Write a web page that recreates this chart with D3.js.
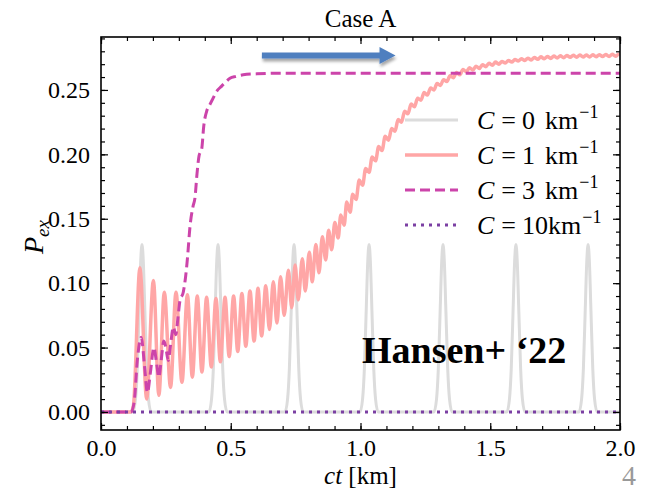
<!DOCTYPE html>
<html>
<head>
<meta charset="utf-8">
<script src="https://cdn.jsdelivr.net/npm/d3@7"></script>
<style>
  body { margin: 0; background: #fff; }
  svg text { font-family: "Liberation Serif", "Times New Roman", serif; fill: #000; }
</style>
</head>
<body>
<div id="graph"></div>
<script>
// tick labels
const xTicks = [0, 0.5, 1.0, 1.5, 2.0];
const yTicks = [0, 0.05, 0.10, 0.15, 0.20, 0.25];

// legend
const legendValues = ["0", "1", "3", "10"];

// C = 0 km^-1 : narrow peaks, [ct, P]
const c0Points = [
  [0, 0],
  [0.123, 0], [0.133, 0.010], [0.140, 0.034], [0.147, 0.079], [0.153, 0.117], [0.158, 0.130],
  [0.163, 0.117], [0.169, 0.079], [0.176, 0.034], [0.183, 0.010], [0.193, 0],
  [0.416, 0], [0.426, 0.010], [0.433, 0.034], [0.440, 0.079], [0.446, 0.117], [0.451, 0.130],
  [0.456, 0.117], [0.462, 0.079], [0.469, 0.034], [0.476, 0.010], [0.486, 0],
  [0.709, 0], [0.719, 0.010], [0.726, 0.034], [0.733, 0.079], [0.739, 0.117], [0.744, 0.130],
  [0.749, 0.117], [0.755, 0.079], [0.762, 0.034], [0.769, 0.010], [0.779, 0],
  [0.998, 0], [1.008, 0.010], [1.015, 0.034], [1.022, 0.079], [1.028, 0.117], [1.033, 0.130],
  [1.038, 0.117], [1.044, 0.079], [1.051, 0.034], [1.058, 0.010], [1.068, 0],
  [1.283, 0], [1.293, 0.010], [1.300, 0.034], [1.307, 0.079], [1.313, 0.117], [1.318, 0.130],
  [1.323, 0.117], [1.329, 0.079], [1.336, 0.034], [1.343, 0.010], [1.353, 0],
  [1.564, 0], [1.574, 0.010], [1.581, 0.034], [1.588, 0.079], [1.594, 0.117], [1.599, 0.130],
  [1.604, 0.117], [1.610, 0.079], [1.617, 0.034], [1.624, 0.010], [1.634, 0],
  [1.842, 0], [1.852, 0.010], [1.859, 0.034], [1.866, 0.079], [1.872, 0.117], [1.877, 0.130],
  [1.882, 0.117], [1.888, 0.079], [1.895, 0.034], [1.902, 0.010], [1.912, 0],
  [2.0, 0]
];

// C = 1 km^-1 : oscillating rise, peaks and troughs [ct, P]
const c1Points = [
  [0, 0], [0.115, 0], [0.125, 0.005],
  [0.150, 0.112], [0.176, 0.010], [0.202, 0.102], [0.223, 0.013],
  [0.244, 0.093], [0.268, 0.019], [0.289, 0.093], [0.312, 0.023],
  [0.333, 0.091], [0.352, 0.027], [0.371, 0.090], [0.389, 0.031],
  [0.407, 0.089], [0.425, 0.035], [0.443, 0.088], [0.460, 0.039],
  [0.478, 0.089], [0.494, 0.043], [0.511, 0.090], [0.527, 0.047],
  [0.543, 0.092], [0.558, 0.051], [0.574, 0.094], [0.590, 0.055],
  [0.605, 0.096], [0.619, 0.059], [0.635, 0.098], [0.649, 0.064],
  [0.664, 0.101], [0.678, 0.069], [0.692, 0.105], [0.706, 0.075],
  [0.722, 0.110], [0.735, 0.081], [0.748, 0.114], [0.760, 0.087],
  [0.776, 0.119], [0.787, 0.094], [0.803, 0.124], [0.814, 0.101],
  [0.828, 0.130], [0.840, 0.108], [0.853, 0.136], [0.866, 0.118],
  [0.877, 0.141], [0.889, 0.126], [0.901, 0.147], [0.914, 0.135],
  [0.924, 0.153], [0.937, 0.145], [0.947, 0.163], [0.960, 0.155],
  [0.970, 0.169], [0.983, 0.165], [0.995, 0.180], [1.008, 0.176],
  [1.020, 0.189], [1.033, 0.186], [1.045, 0.198], [1.058, 0.195],
  [1.070, 0.206], [1.083, 0.203], [1.095, 0.214], [1.108, 0.211],
  [1.120, 0.220], [1.133, 0.218], [1.145, 0.227], [1.158, 0.225],
  [1.170, 0.2335], [1.183, 0.2315], [1.195, 0.239], [1.208, 0.237],
  [1.220, 0.2435], [1.233, 0.242], [1.245, 0.248], [1.258, 0.246],
  [1.270, 0.2515], [1.283, 0.250], [1.295, 0.255], [1.308, 0.2535],
  [1.320, 0.258], [1.333, 0.2565], [1.345, 0.261], [1.358, 0.2595],
  [1.370, 0.2635], [1.383, 0.2618], [1.395, 0.2659], [1.408, 0.2640],
  [1.420, 0.2673], [1.433, 0.2654], [1.445, 0.2684], [1.458, 0.2667],
  [1.470, 0.2696], [1.483, 0.2681], [1.495, 0.2708], [1.508, 0.2692],
  [1.520, 0.2716], [1.533, 0.2700], [1.545, 0.2721], [1.558, 0.2709],
  [1.570, 0.2729], [1.583, 0.2717], [1.595, 0.2736], [1.608, 0.2724],
  [1.620, 0.2742], [1.633, 0.2729], [1.645, 0.2747], [1.658, 0.2733],
  [1.670, 0.2752], [1.683, 0.2738], [1.695, 0.2757], [1.708, 0.2742],
  [1.720, 0.2760], [1.733, 0.2745], [1.745, 0.2763], [1.758, 0.2748],
  [1.770, 0.2765], [1.783, 0.2750], [1.795, 0.2768], [1.808, 0.2753],
  [1.820, 0.2769], [1.833, 0.2754], [1.845, 0.2771], [1.858, 0.2755],
  [1.870, 0.2772], [1.883, 0.2756], [1.895, 0.2773], [1.908, 0.2758],
  [1.920, 0.2774], [1.933, 0.2759], [1.945, 0.2776], [1.958, 0.2760],
  [1.970, 0.2777], [1.983, 0.2761], [1.995, 0.2778], [2.0, 0.2775]
];

// C = 3 km^-1 : fast rise to a plateau
const c3Points = [
  [0, 0], [0.115, 0], [0.128, 0.008], [0.140, 0.040], [0.155, 0.058],
  [0.168, 0.035], [0.179, 0.015], [0.190, 0.030], [0.204, 0.050],
  [0.214, 0.038], [0.223, 0.027], [0.232, 0.040], [0.242, 0.055],
  [0.250, 0.050], [0.259, 0.040], [0.268, 0.052], [0.279, 0.066],
  [0.288, 0.060], [0.296, 0.072], [0.304, 0.086], [0.317, 0.093],
  [0.326, 0.105], [0.333, 0.119], [0.343, 0.144], [0.355, 0.160],
  [0.362, 0.166], [0.370, 0.185], [0.378, 0.199], [0.388, 0.204],
  [0.396, 0.222], [0.408, 0.234], [0.418, 0.238], [0.428, 0.242],
  [0.446, 0.249], [0.465, 0.253], [0.480, 0.256], [0.497, 0.259],
  [0.520, 0.2605], [0.548, 0.2618], [0.600, 0.2625], [0.700, 0.263],
  [2.0, 0.263]
];

// C = 10 km^-1 : stays at zero
const c10Points = [[0, 0], [2.0, 0]];

// arrow annotation, data coords
const arrowFrom = [0.62, 0.2768];
const arrowTo = [1.135, 0.2768];

const margin = {top: 37, right: 26, bottom: 62, left: 101};
const width = 646 - margin.left - margin.right;
const height = 492 - margin.top - margin.bottom;

const x = d3.scaleLinear().domain([0, 2]).range([0, width]);
const y = d3.scaleLinear().domain([-0.014, 0.2911]).range([height, 0]);

const svg = d3.select("#graph").append("svg")
    .attr("width", 646)
    .attr("height", 492);

const defs = svg.append("defs");
defs.append("clipPath").attr("id", "clip")
    .append("rect").attr("width", width).attr("height", height);
const shadow = defs.append("filter").attr("id", "shadow")
    .attr("x", "-20%").attr("y", "-100%").attr("width", "140%").attr("height", "300%");
shadow.append("feDropShadow")
    .attr("dx", 1).attr("dy", 3).attr("stdDeviation", 1.6)
    .attr("flood-color", "#000").attr("flood-opacity", 0.35);

const g = svg.append("g")
    .attr("transform", "translate(" + margin.left + "," + margin.top + ")");

// title
svg.append("text")
    .attr("x", margin.left + width / 2).attr("y", 27)
    .attr("text-anchor", "middle")
    .style("font-size", "25px")
    .text("Case A");

// curves
const line = d3.line()
    .x(d => x(d[0]))
    .y(d => y(d[1]))
    .curve(d3.curveMonotoneX);

const series = [
  {pts: c0Points, color: "#dcdcdc", w: 3, dash: null},
  {pts: c1Points, color: "#ffa6a6", w: 3.5, dash: null},
  {pts: c3Points, color: "#cc44aa", w: 3, dash: "10,5"},
  {pts: c10Points, color: "#7b3fa3", w: 3, dash: "3,5"}
];

const plot = g.append("g").attr("clip-path", "url(#clip)");
series.forEach(s => {
  plot.append("path")
      .datum(s.pts)
      .attr("fill", "none")
      .attr("stroke", s.color)
      .attr("stroke-width", s.w)
      .attr("stroke-dasharray", s.dash)
      .attr("d", line);
});

// blue arrow
const ax0 = x(arrowFrom[0]), ax1 = x(arrowTo[0]), ay = y(arrowFrom[1]);
g.append("path")
    .attr("d", "M" + ax0 + "," + (ay - 3) + "L" + (ax1 - 16) + "," + (ay - 3) +
      "L" + (ax1 - 16) + "," + (ay - 8.5) + "L" + ax1 + "," + ay +
      "L" + (ax1 - 16) + "," + (ay + 8.5) + "L" + (ax1 - 16) + "," + (ay + 3) +
      "L" + ax0 + "," + (ay + 3) + "Z")
    .attr("fill", "#4f7fbf")
    .attr("filter", "url(#shadow)");

// axes, ticks inside on all four sides
function styleAxis(sel) {
  sel.select(".domain").remove();
  sel.selectAll("line").attr("stroke", "#000").attr("stroke-width", 1.2);
  sel.selectAll("text").style("font-size", "24px")
      .style("font-family", "'Liberation Serif', serif");
}

const xMinor = x.ticks(20);
const yMinor = y.ticks(30);

g.append("g").attr("transform", "translate(0," + height + ")")
    .call(d3.axisBottom(x).tickValues(xMinor).tickSizeInner(-4).tickSizeOuter(0).tickFormat(""))
    .call(styleAxis);
g.append("g").attr("transform", "translate(0," + height + ")")
    .call(d3.axisBottom(x).tickValues(xTicks).tickSizeInner(-7).tickSizeOuter(0)
      .tickPadding(9).tickFormat(d3.format(".1f")))
    .call(styleAxis);
g.append("g")
    .call(d3.axisTop(x).tickValues(xMinor).tickSizeInner(-4).tickSizeOuter(0).tickFormat(""))
    .call(styleAxis);
g.append("g")
    .call(d3.axisTop(x).tickValues(xTicks).tickSizeInner(-7).tickSizeOuter(0).tickFormat(""))
    .call(styleAxis);

g.append("g")
    .call(d3.axisLeft(y).tickValues(yMinor).tickSizeInner(-4).tickSizeOuter(0).tickFormat(""))
    .call(styleAxis);
g.append("g")
    .call(d3.axisLeft(y).tickValues(yTicks).tickSizeInner(-7).tickSizeOuter(0)
      .tickPadding(11).tickFormat(d3.format(".2f")))
    .call(styleAxis);
g.append("g").attr("transform", "translate(" + width + ",0)")
    .call(d3.axisRight(y).tickValues(yMinor).tickSizeInner(-4).tickSizeOuter(0).tickFormat(""))
    .call(styleAxis);
g.append("g").attr("transform", "translate(" + width + ",0)")
    .call(d3.axisRight(y).tickValues(yTicks).tickSizeInner(-7).tickSizeOuter(0).tickFormat(""))
    .call(styleAxis);

g.append("rect")
    .attr("width", width).attr("height", height)
    .attr("fill", "none").attr("stroke", "#000").attr("stroke-width", 1.6);

// axis labels
const xl = svg.append("text")
    .attr("x", margin.left + width / 2).attr("y", 484)
    .attr("text-anchor", "middle")
    .style("font-size", "25px");
xl.append("tspan").style("font-style", "italic").text("ct");
xl.append("tspan").text(" [km]");

const yl = svg.append("text")
    .attr("transform", "translate(43," + (margin.top + 200) + ") rotate(-90)")
    .attr("text-anchor", "middle")
    .style("font-size", "28px");
yl.append("tspan").style("font-style", "italic").text("P");
yl.append("tspan").style("font-style", "italic").style("font-size", "19px")
    .attr("dy", 6).text("ex");

// legend
const legend = g.append("g").attr("transform", "translate(304,83)");
series.forEach((s, i) => {
  const row = legend.append("g").attr("transform", "translate(0," + (i * 35) + ")");
  row.append("line")
      .attr("x1", 0).attr("x2", 53)
      .attr("stroke", s.color)
      .attr("stroke-width", s.w)
      .attr("stroke-dasharray", s.dash);
  const t = row.append("text").attr("x", 72).attr("y", 9).style("font-size", "26px");
  t.append("tspan").style("font-style", "italic").text("C");
  t.append("tspan").attr("dx", 7).text("=");
  t.append("tspan").attr("dx", 6).text(legendValues[i]);
  t.append("tspan").attr("dx", i === 3 ? 0 : 10).text("km");
  t.append("tspan").style("font-size", "18px").attr("dx", 1).attr("dy", -11).text("\u22121");
});

// annotation text
svg.append("text")
    .attr("x", 362).attr("y", 363)
    .style("font-size", "38px")
    .style("font-weight", "bold")
    .text("Hansen+ \u201822");

svg.append("text")
    .attr("x", 622).attr("y", 485)
    .style("font-size", "28px")
    .style("fill", "#999")
    .text("4");
</script>
</body>
</html>
